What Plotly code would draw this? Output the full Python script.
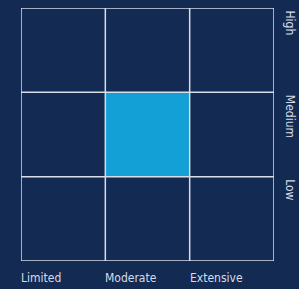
import plotly.graph_objects as go

x_labels = ["Limited", "Moderate", "Extensive"]
y_labels = ["Low", "Medium", "High"]
# 1 = highlighted cell
z = [[0, 0, 0],
     [0, 1, 0],
     [0, 0, 0]]

BG = "#132a52"
HL = "#12a0d7"
LINE = "#d8dee8"
TXT = "#d6dce6"
FONT = "Liberation Sans Narrow, DejaVu Sans Condensed, Roboto, sans-serif"

fig = go.Figure()
fig.add_trace(go.Heatmap(
    x=[i + 0.5 for i in range(len(x_labels))],
    y=[i + 0.5 for i in range(len(y_labels))],
    z=z,
    colorscale=[[0, BG], [1, HL]],
    showscale=False,
    hoverinfo="skip",
))

nx, ny = len(x_labels), len(y_labels)
for i in range(nx + 1):
    fig.add_shape(type="line", x0=i, x1=i, y0=0, y1=ny, xref="x", yref="y",
                  line=dict(color=LINE, width=1.5), layer="above")
for j in range(ny + 1):
    fig.add_shape(type="line", x0=0, x1=nx, y0=j, y1=j, xref="x", yref="y",
                  line=dict(color=LINE, width=1.5), layer="above")

for i, lab in enumerate(x_labels):
    fig.add_annotation(x=i, y=0, xref="x", yref="y", text=lab, showarrow=False,
                       xanchor="left", yanchor="top", yshift=-8, xshift=-2,
                       font=dict(family=FONT, size=12, color=TXT))
for i, lab in enumerate(y_labels):
    fig.add_annotation(x=nx, y=i + 1, xref="x", yref="y", text=lab, showarrow=False,
                       textangle=90, xanchor="left", yanchor="top", xshift=7,
                       font=dict(family=FONT, size=12, color=TXT))

axis = dict(range=[0, 3], showticklabels=False, showgrid=False, zeroline=False,
            showline=False, ticks="", fixedrange=True)
fig.update_layout(
    width=299, height=289,
    margin=dict(l=21, r=25, t=8, b=28),
    paper_bgcolor=BG, plot_bgcolor=BG,
    xaxis=dict(axis),
    yaxis=dict(axis),
    showlegend=False,
)
fig.write_html("out.html", config={"displayModeBar": False},
               post_script="document.body.style.margin='0';document.body.style.background='%s';" % BG)
